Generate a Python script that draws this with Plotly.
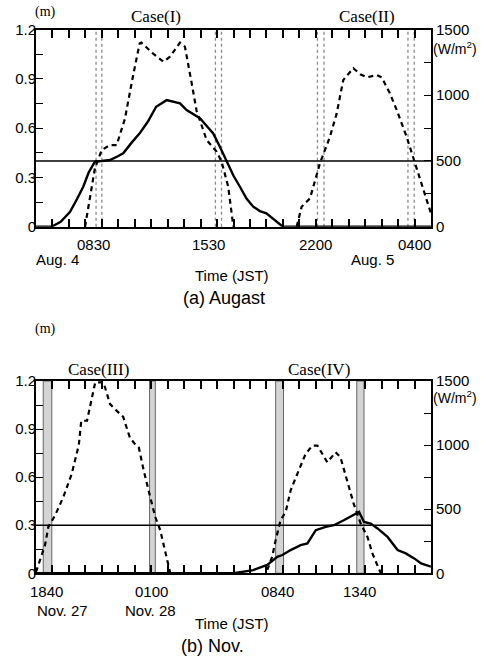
import plotly.graph_objects as go

W, H = 483, 664

# ---------------- (a) August : time in hours from 00:00 Aug. 4 ----------------
aug_solid_t = [5.0, 5.95, 6.5, 7.07, 7.5, 7.87, 8.2, 8.58, 9.0, 9.5, 10.0, 10.3, 10.8, 11.3,
               11.8, 12.3, 12.94, 13.75, 14.15, 14.96, 15.4, 15.77, 16.2, 16.58, 17.0, 17.39,
               17.8, 18.2, 18.6, 19.0, 19.5, 20.0, 29.0]
aug_solid_m = [0.0, 0.0, 0.03, 0.09, 0.17, 0.243, 0.33, 0.396, 0.40, 0.406, 0.43, 0.447, 0.51, 0.568,
               0.64, 0.73, 0.77, 0.75, 0.71, 0.66, 0.61, 0.568, 0.48, 0.396, 0.31, 0.243,
               0.17, 0.122, 0.095, 0.081, 0.04, 0.0, 0.0]
aug_dash_t = [7.98, 8.3, 8.58, 8.99, 9.5, 9.9, 10.4, 10.9, 11.3, 11.4, 12.1, 12.74, 13.14, 13.75,
              14.05, 14.46, 14.76, 15.37, 15.98, 16.28, 16.68, 16.99, None,
              20.84, 21.14, 21.65, 22.25, 22.86, 23.27, 23.67, 24.28, 24.7, 25.09, 25.7, 26.0,
              26.5, 26.91, 27.52, 28.03, 28.53, 28.94, 29.0]
aug_dash_w = [0, 250, 444, 583, 621, 621, 820, 1150, 1395, 1400, 1319, 1255, 1293, 1400,
              1369, 1090, 880, 659, 570, 494, 304, 0, None,
              0, 152, 216, 482, 684, 862, 1116, 1205, 1160, 1136, 1154, 1136,
              1015, 890, 684, 482, 279, 127, 100]
aug_band_start = [8.65, 15.9, 22.1, 27.6]
aug_band_end = [9.0, 16.27, 22.5, 27.98]
aug_level = 0.4
aug_tick_times = [8.5, 15.5, 22.0, 28.0]
aug_tick_text = ["0830", "1530", "2200", "0400"]
aug_date_times = [6.3, 25.45]
aug_date_text = ["Aug. 4", "Aug. 5"]
aug_cases = ["Case(I)", "Case(II)"]
aug_case_times = [12.3, 25.1]

# ---------------- (b) November : time in hours from 00:00 Nov. 27 ----------------
nov_solid_t = [18.0, 30.0, 31.2, 32.05, 32.66, 32.97, 33.47, 34.08, 34.49, 35.0, 35.6, 36.1,
               36.7, 37.63, 37.93, 38.34, 38.75, 39.36, 39.97, 40.47, 40.98, 41.4, 42.0]
nov_solid_m = [0.0, 0.0, 0.02, 0.052, 0.103, 0.114, 0.145, 0.176, 0.186, 0.269, 0.29, 0.30,
               0.331, 0.383, 0.32, 0.31, 0.28, 0.227, 0.145, 0.124, 0.093, 0.062, 0.041]
nov_dash_t = [18.0, 18.14, 18.35, 18.55, 18.75, 19.16, 19.66, 20.17, 20.6, 20.75, 21.1, 21.6,
              22.1, 22.5, 22.8, 23.3, 23.7, 24.0, 24.25, 24.53, 24.94, 25.25, 25.55, 25.86, 26.16,
              None,
              32.05, 32.35, 32.56, 32.86, 33.17, 33.47, 33.88, 34.38, 34.79, 35.1, 35.7, 36.2,
              36.5, 36.9, 37.3, 37.73, 38.14, 38.44, 38.75, 38.95]
nov_dash_w = [10, 65, 130, 220, 362, 452, 594, 776, 1000, 1190, 1190, 1490,
              1490, 1320, 1280, 1220, 1060, 1010, 980, 810, 594, 439, 336, 155, 0,
              None,
              26, 129, 258, 414, 478, 646, 776, 931, 996, 996, 866, 944,
              905, 724, 543, 388, 284, 155, 52, 0]
nov_band_start = [18.44, 24.9, 32.56, 37.49]
nov_band_end = [18.96, 25.25, 33.04, 37.93]
nov_level = 0.3
nov_tick_times = [18 + 40 / 60, 25.0, 32 + 40 / 60, 37 + 40 / 60]
nov_tick_text = ["1840", "0100", "0840", "1340"]
nov_date_times = [19.64, 24.94]
nov_date_text = ["Nov. 27", "Nov. 28"]
nov_cases = ["Case(III)", "Case(IV)"]
nov_case_times = [21.78, 35.2]

SANS = "Liberation Sans, Arial, sans-serif"
SERIF = "Liberation Serif, Times New Roman, serif"
TF = dict(family=SANS, size=15, color="black")


def py(p):
    return 1 - p / H


def px(p):
    return p / W


xdom = [px(36), px(431)]
top_dom = [py(226.7), py(29.5)]
bot_dom = [py(573.3), py(381)]

fig = go.Figure()

panels = [
    dict(xa="x", ya="y", ya2="y2", st=aug_solid_t, sm=aug_solid_m, dt=aug_dash_t, dw=aug_dash_w),
    dict(xa="x2", ya="y3", ya2="y4", st=nov_solid_t, sm=nov_solid_m, dt=nov_dash_t, dw=nov_dash_w),
]
for p in panels:
    fig.add_trace(go.Scatter(x=p["st"], y=p["sm"], xaxis=p["xa"], yaxis=p["ya"], mode="lines",
                             line=dict(color="black", width=2.4), showlegend=False))
    fig.add_trace(go.Scatter(x=p["dt"], y=p["dw"], xaxis=p["xa"], yaxis=p["ya2"], mode="lines",
                             line=dict(color="black", width=2.2, dash="5px,4px"),
                             connectgaps=False, showlegend=False))

xcommon = dict(showline=True, linecolor="black", linewidth=2, mirror="ticks", ticks="inside",
               ticklen=8, tickwidth=1.6, tickcolor="black", dtick=1, tickmode="linear",
               showticklabels=False, showgrid=False, zeroline=False, automargin=False)
ycommon = dict(showline=True, linecolor="black", linewidth=2, ticks="inside", ticklen=7,
               tickwidth=1.4, tickcolor="black", showgrid=False, zeroline=False,
               tickfont=TF, tickmode="linear", tick0=0, automargin=False)
yleft = dict(dtick=0.3, tickformat=".1~f", ticklabelstandoff=-5,
             minor=dict(ticks="inside", dtick=0.15, ticklen=7, tickwidth=1.4, tickcolor="black", showgrid=False),
             **ycommon)
yright = dict(dtick=500,
              minor=dict(ticks="inside", dtick=250, ticklen=7, tickwidth=1.4, tickcolor="black", showgrid=False),
              **ycommon)

fig.update_layout(
    width=W, height=H, margin=dict(l=0, r=0, t=0, b=0, autoexpand=False),
    paper_bgcolor="white", plot_bgcolor="white",
    xaxis=dict(domain=xdom, anchor="y", range=[5, 29], tick0=5, **xcommon),
    yaxis=dict(domain=top_dom, anchor="x", range=[0, 1.2], **yleft),
    yaxis2=dict(overlaying="y", side="right", anchor="x", range=[0, 1500], **yright),
    xaxis2=dict(domain=xdom, anchor="y3", range=[18, 42], tick0=18, **xcommon),
    yaxis3=dict(domain=bot_dom, anchor="x2", range=[0, 1.2], **yleft),
    yaxis4=dict(overlaying="y3", side="right", anchor="x2", range=[0, 1500], **yright),
)

shapes = []
# top panel bands: two thin grey dotted lines
for s, e in zip(aug_band_start, aug_band_end):
    for xv in (s, e):
        shapes.append(dict(type="line", xref="x", yref="y domain", x0=xv, x1=xv, y0=0, y1=1,
                           line=dict(color="#8a8a8a", width=1.3, dash="dot"), layer="below"))
# bottom panel bands: stippled grey fill
for s, e in zip(nov_band_start, nov_band_end):
    shapes.append(dict(type="rect", xref="x2", yref="y3 domain", x0=s, x1=e, y0=0, y1=1,
                       fillcolor="rgba(170,170,170,0.5)", line=dict(color="#666", width=1),
                       layer="below"))
# threshold lines
shapes.append(dict(type="line", xref="x domain", yref="y", x0=0, x1=1, y0=aug_level, y1=aug_level,
                   line=dict(color="black", width=1.4)))
shapes.append(dict(type="line", xref="x2 domain", yref="y3", x0=0, x1=1, y0=nov_level, y1=nov_level,
                   line=dict(color="black", width=1.4)))
fig.update_layout(shapes=shapes)

ann = []
def text(x, y, t, xref="paper", yref="paper", size=15, family=SANS, xanchor="center", yanchor="middle"):
    ann.append(dict(x=x, y=y, xref=xref, yref=yref, text=t, showarrow=False,
                    font=dict(family=family, size=size, color="black"),
                    xanchor=xanchor, yanchor=yanchor))

# tick labels and dates
for t, lab in zip(aug_tick_times, aug_tick_text):
    text(t, py(245), lab, xref="x")
for t, lab in zip(aug_date_times, aug_date_text):
    text(t, py(259), lab, xref="x")
for t, lab in zip(nov_tick_times, nov_tick_text):
    text(t, py(591.5), lab, xref="x2")
for t, lab in zip(nov_date_times, nov_date_text):
    text(t, py(610), lab, xref="x2")
for t, lab in zip(aug_case_times, aug_cases):
    text(t, py(17), lab, xref="x", family=SERIF, size=17)
for t, lab in zip(nov_case_times, nov_cases):
    text(t, py(369), lab, xref="x2", family=SERIF, size=17)

text(px(231.5), py(275), "Time (JST)")
text(px(231.5), py(623), "Time (JST)")
text(px(224), py(298), "(a) Augast", size=18)
text(px(212), py(646), "(b) Nov.", size=18)
text(px(45), py(12), "(m)", family=SERIF, size=14)
text(px(45), py(329), "(m)", family=SERIF, size=14)
text(px(455), py(47.5), "(W/m<sup>2</sup>)", size=14)
text(px(455), py(397), "(W/m<sup>2</sup>)", size=14)
fig.update_layout(annotations=ann)

fig.write_html("out.html", config={"displayModeBar": False},
               post_script="document.body.style.margin='0';document.body.style.padding='0';")
